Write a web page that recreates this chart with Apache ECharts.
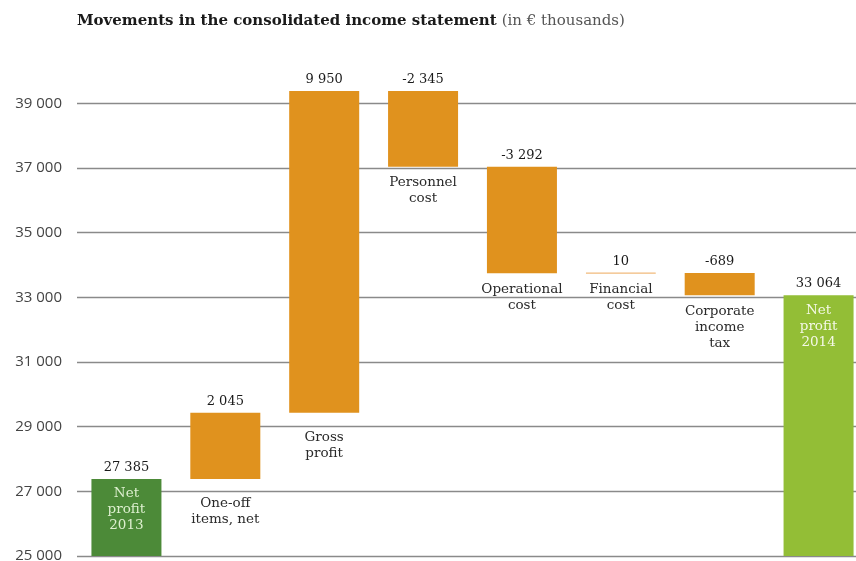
<!DOCTYPE html>
<html>
<head>
<meta charset="utf-8">
<script src="https://cdn.jsdelivr.net/npm/echarts@6/dist/echarts.min.js"></script>
<style>
html,body{margin:0;padding:0;background:#fff;}
#chart{width:856px;height:561px;}
</style>
</head>
<body>
<div id="chart"></div>
<script>
// ---- Data ----
var categories = ['Net\nprofit\n2013', 'One-off\nitems, net', 'Gross\nprofit', 'Personnel\ncost', 'Operational\ncost', 'Financial\ncost', 'Corporate\nincome\ntax', 'Net\nprofit\n2014'];
var movements = [27385, 2045, 9950, -2345, -3292, 10, -689, 33064];
var isTotal = [true, false, false, false, false, false, false, true];
var yTicks = [25000, 27000, 29000, 31000, 33000, 35000, 37000, 39000];

// ---- Helpers ----
function fmt(v) {
  var s = Math.abs(v).toString().replace(/\B(?=(\d{3})+(?!\d))/g, ' ');
  return (v < 0 ? '-' : '') + s;
}

var SERIF = 'DejaVu Serif';
var ORANGE = '#E0921E';
var DARKGREEN = '#4C8A38';
var LIGHTGREEN = '#93BE36';

// compute waterfall bases/heights
var running = 0;
var baseData = [], heightData = [];
movements.forEach(function (m, i) {
  if (isTotal[i]) {
    running = m;
    baseData.push({
      value: m,
      itemStyle: { color: i === 0 ? DARKGREEN : LIGHTGREEN },
      label: {
        show: true, position: 'insideTop', distance: 7,
        color: i === 0 ? '#DDEFCF' : '#F4F8E6'
      }
    });
    heightData.push(0);
  } else {
    var start = running, end = running + m;
    running = end;
    var lo = Math.min(start, end), hi = Math.max(start, end);
    baseData.push({ value: lo });
    var item = { value: hi - lo };
    if (Math.abs(m) < 50) {
      item.itemStyle = { color: '#F3C48E', borderColor: '#F3C48E', borderWidth: 1 };
    }
    heightData.push(item);
  }
});

var labelDistance = { 1: 17, 2: 17 };
baseData.forEach(function (d, i) {
  if (!isTotal[i]) {
    d.label = {
      show: true, position: 'insideTop',
      distance: labelDistance[i] || 8
    };
  }
});

var chart = echarts.init(document.getElementById('chart'));
var option = {
  backgroundColor: '#fff',
  animation: false,
  title: {
    left: 72, top: 7,
    text: '{b|Movements in the consolidated income statement} {n|(in € thousands)}',
    textStyle: {
      rich: {
        b: { fontFamily: SERIF, fontWeight: 'bold', fontSize: 15, color: '#1a1a1a' },
        n: { fontFamily: SERIF, fontWeight: 'normal', fontSize: 15, color: '#555' }
      }
    }
  },
  grid: { left: 77, width: 791, top: 71, bottom: 5, outerBoundsMode: 'none', containLabel: false },
  xAxis: {
    type: 'category',
    data: categories,
    axisLine: { show: false },
    axisTick: { show: false },
    axisLabel: { show: false }
  },
  yAxis: {
    type: 'value',
    min: 25000, max: 40000, interval: 2000,
    axisLine: { show: false },
    axisTick: { show: false },
    splitLine: { show: false },
    axisLabel: {
      margin: 15,
      color: '#444',
      fontFamily: 'Open Sans',
      fontSize: 15,
      formatter: function (v) { return yTicks.indexOf(v) >= 0 ? fmt(v) : ''; }
    }
  },
  series: [
    {
      name: 'base',
      type: 'bar',
      stack: 'w',
      barWidth: 70,
      itemStyle: { color: 'rgba(0,0,0,0)' },
      label: {
        show: false,
        color: '#2a2a2a',
        fontFamily: SERIF,
        fontSize: 13.5,
        lineHeight: 16,
        formatter: function (p) { return categories[p.dataIndex]; }
      },
      data: baseData,
      markLine: {
        silent: true,
        symbol: ['none', 'none'],
        label: { show: false },
        lineStyle: { color: '#8a8a8a', width: 1.3, type: 'solid' },
        data: yTicks.map(function (t) { return { yAxis: t }; }),
        z: 0
      },
      z: 3
    },
    {
      name: 'move',
      type: 'bar',
      stack: 'w',
      barWidth: 70,
      itemStyle: { color: ORANGE },
      label: {
        show: true,
        position: 'top',
        distance: 5,
        color: '#1a1a1a',
        fontFamily: SERIF,
        fontSize: 13,
        formatter: function (p) { return fmt(movements[p.dataIndex]); }
      },
      data: heightData,
      z: 3
    }
  ]
};
chart.setOption(option);
</script>
</body>
</html>
